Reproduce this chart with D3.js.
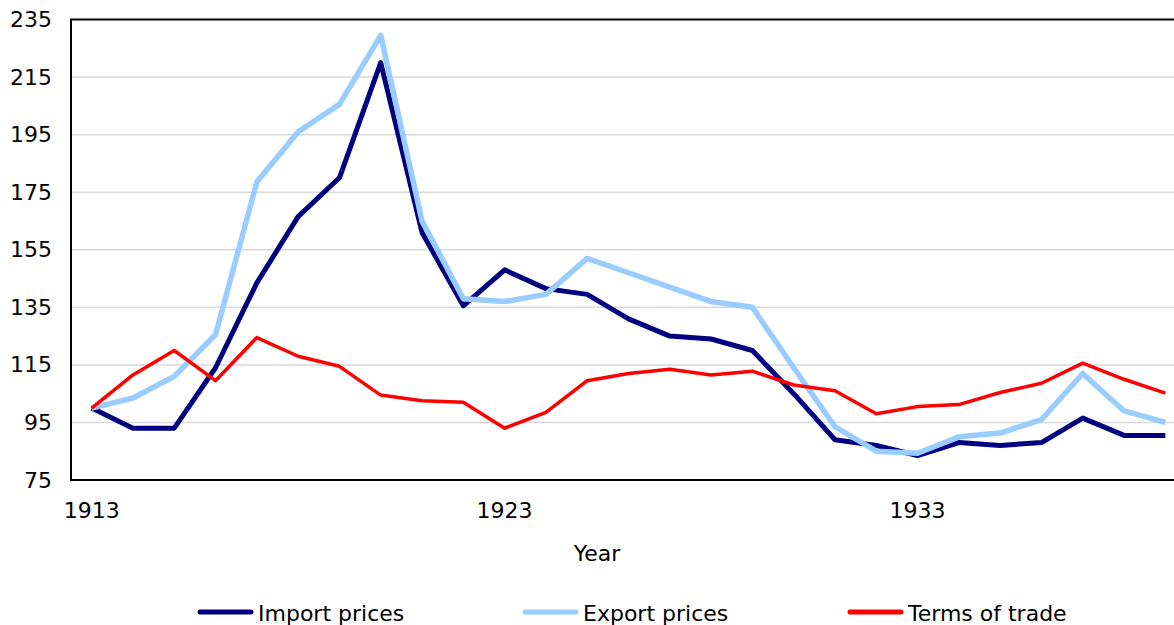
<!DOCTYPE html>
<html>
<head>
<meta charset="utf-8">
<script src="https://cdn.jsdelivr.net/npm/d3@7"></script>
<style>
  body { margin: 0; background: #fff; }
  svg { display: block; font-family: "DejaVu Sans", Verdana, sans-serif; }
</style>
</head>
<body>
<div id="chart"></div>
<script>
const years = d3.range(1913, 1940);

const importPrices = [100, 93, 93, 114, 143.5, 166.5, 180, 220, 161, 135.5, 148, 141.5, 139.5, 131, 125, 124, 120, 105, 89, 87, 83.5, 88, 87, 88, 96.5, 90.5, 90.5];
const exportPrices = [100, 103.5, 111, 125.5, 178.5, 196, 205.5, 229.5, 165, 138, 137, 139.5, 152, 147, 142, 137, 135, 114, 93.5, 85, 84.3, 90, 91.3, 96, 112, 99, 95];
const termsOfTrade = [100, 111.5, 120, 109.5, 124.5, 118, 114.5, 104.5, 102.5, 102, 93, 98.5, 109.5, 112, 113.5, 111.5, 112.8, 108, 106, 98, 100.5, 101.2, 105.4, 108.6, 115.6, 110, 105.2];

const yTicks = [75, 95, 115, 135, 155, 175, 195, 215, 235];
const xTickLabels = [1913, 1923, 1933];

const series = [
    { name: "Import prices", values: importPrices, color: "#000080", width: 5 },
    { name: "Export prices", values: exportPrices, color: "#99ccff", width: 5.5 },
    { name: "Terms of trade", values: termsOfTrade, color: "#ff0000", width: 3.5 }
];

const width = 1174;
const height = 625;
const plot = { left: 71, right: 1186, top: 19.5, bottom: 480 };

const svg = d3.select("#chart")
    .append("svg")
    .attr("width", width)
    .attr("height", height);

const x = d3.scaleBand()
    .domain(years)
    .range([plot.left, plot.right]);

const cx = d => x(d) + x.bandwidth() / 2;

const y = d3.scaleLinear()
    .domain([75, 235])
    .range([plot.bottom, plot.top]);

// gridlines
svg.append("g")
    .selectAll("line")
    .data(yTicks.slice(1, -1))
    .enter()
    .append("line")
    .attr("x1", plot.left)
    .attr("x2", plot.right)
    .attr("y1", d => y(d))
    .attr("y2", d => y(d))
    .attr("stroke", "#d9d9d9")
    .attr("stroke-width", 1.5);

// y axis labels
const yAxis = svg.append("g")
    .attr("transform", `translate(${plot.left},0)`)
    .call(d3.axisLeft(y).tickValues(yTicks).tickSize(0).tickPadding(19));
yAxis.select(".domain").remove();
yAxis.selectAll("text")
    .attr("font-size", "22px")
    .attr("font-family", "DejaVu Sans, Verdana, sans-serif")
    .attr("fill", "#000");

// x axis labels
const xAxis = svg.append("g")
    .attr("transform", `translate(0,${plot.bottom})`)
    .call(d3.axisBottom(x).tickValues(xTickLabels).tickSize(0).tickPadding(22));
xAxis.select(".domain").remove();
xAxis.selectAll("text")
    .attr("font-size", "22px")
    .attr("font-family", "DejaVu Sans, Verdana, sans-serif")
    .attr("fill", "#000");

// frame
svg.append("rect")
    .attr("x", plot.left)
    .attr("y", plot.top)
    .attr("width", plot.right - plot.left)
    .attr("height", plot.bottom - plot.top)
    .attr("fill", "none")
    .attr("stroke", "#000")
    .attr("stroke-width", 2);

const line = d3.line()
    .x((d, i) => cx(years[i]))
    .y(d => y(d));

svg.append("g")
    .selectAll("path")
    .data(series)
    .enter()
    .append("path")
    .attr("d", d => line(d.values))
    .attr("fill", "none")
    .attr("stroke", d => d.color)
    .attr("stroke-width", d => d.width)
    .attr("stroke-linejoin", "round");

svg.append("text")
    .attr("x", 597)
    .attr("y", 561)
    .attr("text-anchor", "middle")
    .attr("font-size", "22px")
    .text("Year");

// legend
const legendX = [200, 525, 850];
const legend = svg.append("g")
    .selectAll("g")
    .data(series)
    .enter()
    .append("g")
    .attr("transform", (d, i) => `translate(${legendX[i]},612)`);

legend.append("line")
    .attr("x1", 0)
    .attr("x2", 51)
    .attr("stroke", d => d.color)
    .attr("stroke-width", 5)
    .attr("stroke-linecap", "round");

legend.append("text")
    .attr("x", 58)
    .attr("y", 9)
    .attr("font-size", "22px")
    .text(d => d.name);
</script>
</body>
</html>
